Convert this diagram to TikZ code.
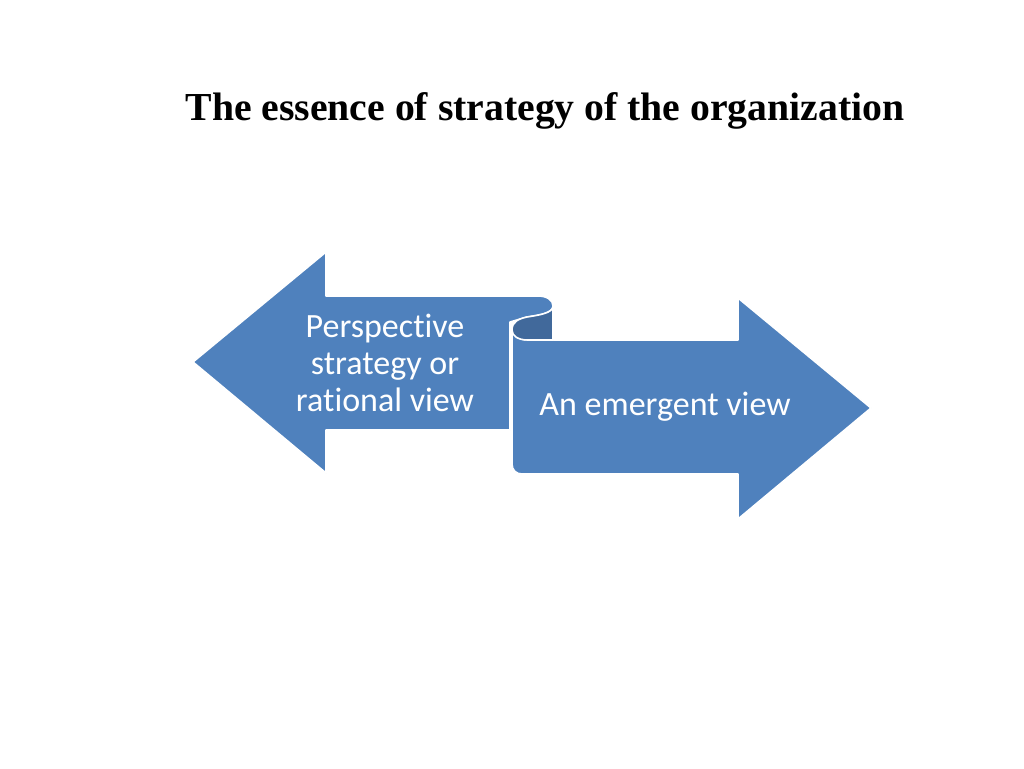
\documentclass[tikz,border=0pt]{standalone}
\usepackage{fontspec}
\setmainfont{Liberation Serif}
\newfontfamily\calib[Ligatures=NoCommon]{Carlito}
\definecolor{ribbon}{HTML}{4F81BD}
\definecolor{ribbondark}{HTML}{41699B}
\begin{document}
\begin{tikzpicture}[x=1pt,y=-1pt,
  ribbonshape/.style={fill=ribbon,draw=white,line width=1.6pt,line join=round},
  backshape/.style={fill=ribbondark,draw=white,line width=1.6pt,line join=round},
  label/.style={font=\calib\fontsize{34}{37}\selectfont,text=white,align=center,inner sep=0pt}]
\useasboundingbox (0,0) rectangle (1024,768);
\fill[white] (0,0) rectangle (1024,768);
\node[font=\bfseries\fontsize{39.7}{48}\selectfont,anchor=base,inner sep=0pt] (title) at (545,120) {The essence of strategy of the organization};
% left ribbon
\path[ribbonshape] (193,362) -- (326,252) -- (326,296) -- (538,296)
  .. controls (547,296) and (553,300) .. (553,306)
  .. controls (553,313) and (540,315) .. (527,317)
  -- (510,322) -- (510,430) -- (326,430) -- (326,473) -- cycle;
% right ribbon
\path[ribbonshape] (512,328) -- (512,464) .. controls (512,470) and (516,474) .. (522,474)
  -- (738,474) -- (738,519) -- (871,408) -- (738,298) -- (738,340) -- (528,340)
  .. controls (518,340) and (512,335) .. (512,328) -- cycle;
% back of the curl
\path[backshape] (512,330) .. controls (512,322) and (518,319) .. (527,317)
  .. controls (540,315) and (553,313) .. (553,306) -- (553,340) -- (528,340)
  .. controls (518,340) and (512,336) .. (512,330) -- cycle;
\node[label] (left) at (385,363) {Perspective\\strategy or\\rational view};
\node[label] (right) at (665,407) {An emergent view};
\end{tikzpicture}
\end{document}
